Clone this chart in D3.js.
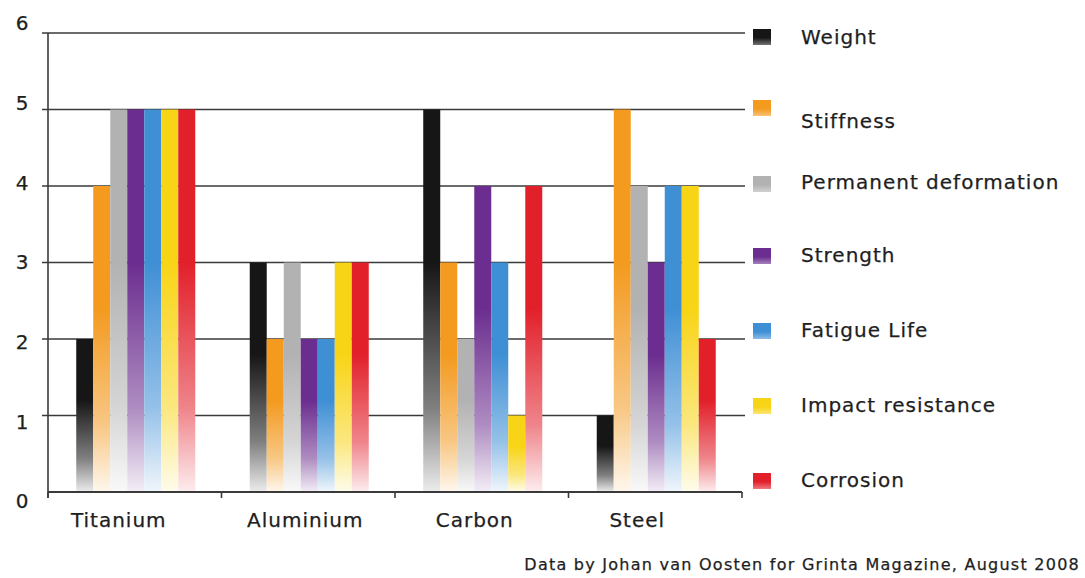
<!DOCTYPE html>
<html>
<head>
<meta charset="utf-8">
<script src="https://cdn.jsdelivr.net/npm/d3@7"></script>
<style>
  html, body { margin: 0; padding: 0; background: #fff; }
  svg text { font-family: "DejaVu Sans", Verdana, sans-serif; fill: #1e1e1e; stroke: #1e1e1e; stroke-width: 0.25px; }
</style>
</head>
<body>
<svg id="chart" width="1085" height="578"></svg>
<script>
const categories = ["Titanium", "Aluminium", "Carbon", "Steel"];
const series = ["Weight", "Stiffness", "Permanent deformation", "Strength", "Fatigue Life", "Impact resistance", "Corrosion"];
const weight      = [2, 3, 5, 1];
const stiffness   = [4, 2, 3, 5];
const permDeform  = [5, 3, 2, 4];
const strength    = [5, 2, 4, 3];
const fatigueLife = [5, 2, 3, 4];
const impact      = [5, 3, 1, 4];
const corrosion   = [5, 3, 4, 2];
const yTicks = [0, 1, 2, 3, 4, 5, 6];
const seriesColors = ["#161616", "#f39a1f", "#b2b2b2", "#6b2d8f", "#3f8fd5", "#f8d416", "#e2202a"];
const footer = "Data by Johan van Oosten for Grinta Magazine, August 2008";

const values = [weight, stiffness, permDeform, strength, fatigueLife, impact, corrosion];

const svg = d3.select("#chart");
const mLeft = 48, mRight = 742, mTop = 33, mBottom = 492;

const y = d3.scaleLinear().domain([0, 6]).range([mBottom, mTop]);
const yLabel = d3.scaleLinear().domain([0, 6]).range([501, 23]);
const x0 = d3.scaleBand().domain(categories).range([mLeft, mRight]).padding(0);
const groupW = x0.bandwidth() * 0.686;
const x1 = d3.scaleBand().domain(series).range([0, groupW]).padding(0);

// gradients
const defs = svg.append("defs");
series.forEach((s, i) => {
  const g = defs.append("linearGradient")
    .attr("id", "grad" + i).attr("x1", 0).attr("y1", 0).attr("x2", 0).attr("y2", 1);
  const c = seriesColors[i];
  const light = d3.interpolateRgb(c, "#ffffff")(0.92);
  const mid = d3.interpolateRgb(c, "#ffffff")(0.45);
  g.append("stop").attr("offset", "0%").attr("stop-color", c);
  g.append("stop").attr("offset", "40%").attr("stop-color", c);
  g.append("stop").attr("offset", "78%").attr("stop-color", mid);
  g.append("stop").attr("offset", "100%").attr("stop-color", light);
  const gs = defs.append("linearGradient")
    .attr("id", "sw" + i).attr("x1", 0).attr("y1", 0).attr("x2", 0).attr("y2", 1);
  gs.append("stop").attr("offset", "0%").attr("stop-color", c);
  gs.append("stop").attr("offset", "55%").attr("stop-color", c);
  gs.append("stop").attr("offset", "100%").attr("stop-color", d3.interpolateRgb(c, "#ffffff")(0.4));
});

// gridlines
svg.append("g").selectAll("line").data(yTicks.filter(d => d > 0)).join("line")
  .attr("x1", mLeft - 6).attr("x2", mRight + 3)
  .attr("y1", d => y(d)).attr("y2", d => y(d))
  .attr("stroke", "#3a3a3a").attr("stroke-width", 1.6);

// y axis line
svg.append("line").attr("x1", mLeft).attr("x2", mLeft).attr("y1", mTop).attr("y2", mBottom + 6)
  .attr("stroke", "#3a3a3a").attr("stroke-width", 1.6);

// y labels
svg.append("g").selectAll("text").data(yTicks).join("text")
  .attr("x", 22).attr("y", d => yLabel(d)).attr("dy", "0.36em")
  .attr("text-anchor", "middle").style("font-size", "20px")
  .text(d => d);

// bars
const groups = svg.append("g").selectAll("g").data(categories).join("g")
  .attr("transform", c => `translate(${x0(c) + (x0.bandwidth() - groupW) / 2 + 1},0)`);
groups.selectAll("rect").data((c, ci) => series.map((s, si) => ({ s, si, v: values[si][ci] })))
  .join("rect")
  .attr("x", d => x1(d.s)).attr("width", x1.bandwidth())
  .attr("y", d => y(d.v)).attr("height", d => y(0) - y(d.v))
  .attr("fill", d => `url(#grad${d.si})`);

// x axis
svg.append("line").attr("x1", mLeft).attr("x2", mRight).attr("y1", mBottom).attr("y2", mBottom)
  .attr("stroke", "#3a3a3a").attr("stroke-width", 1.8);
const bounds = categories.map(c => x0(c)).concat([mRight]);
svg.append("g").selectAll("line").data(bounds).join("line")
  .attr("x1", d => d).attr("x2", d => d).attr("y1", mBottom).attr("y2", mBottom + 6)
  .attr("stroke", "#3a3a3a").attr("stroke-width", 1.6);
const labelShift = [-16, -3, -7, -18];
svg.append("g").selectAll("text").data(categories).join("text")
  .attr("x", (c, i) => x0(c) + x0.bandwidth() / 2 + labelShift[i]).attr("y", 527)
  .attr("text-anchor", "middle").style("font-size", "20px").style("letter-spacing", "1px")
  .text(c => c);

// legend
const legendTextY = [37, 121, 182, 255, 330, 405, 480];
const legendSwatchY = [37, 108, 184, 256, 331, 406, 481];
const leg = svg.append("g").selectAll("g").data(series).join("g");
leg.append("rect")
  .attr("x", 753).attr("width", 18)
  .attr("y", (s, i) => legendSwatchY[i] - 8).attr("height", 16)
  .attr("fill", (s, i) => `url(#sw${i})`);
leg.append("text")
  .attr("x", 801).attr("y", (s, i) => legendTextY[i]).attr("dy", "0.36em")
  .style("font-size", "20px").style("letter-spacing", "1px")
  .text(s => s);

svg.append("text").attr("x", 1080).attr("y", 570).attr("text-anchor", "end")
  .style("font-size", "16px").style("letter-spacing", "1.25px")
  .text(footer);
</script>
</body>
</html>
